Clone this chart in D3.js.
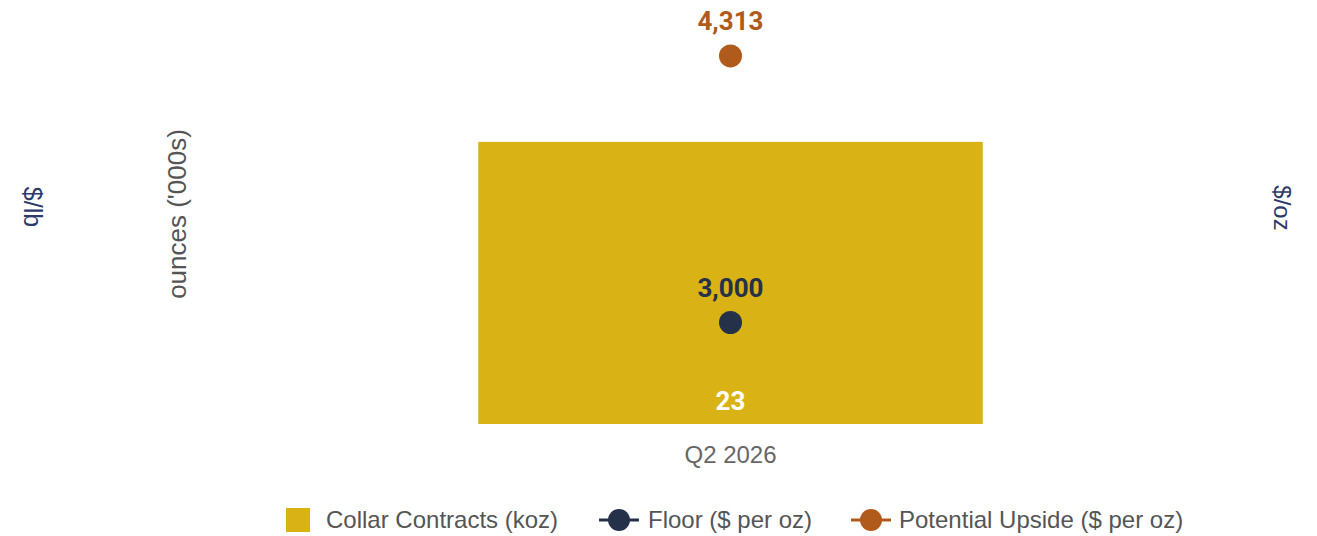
<!DOCTYPE html>
<html><head><meta charset="utf-8">
<script src="https://cdn.jsdelivr.net/npm/d3@7/dist/d3.min.js"></script>
<style>body{margin:0;background:#fff}svg{display:block}</style>
</head><body><svg id="c" width="1317" height="536"></svg>
<script>
const categories = ["Q2 2026"];
const collarKoz = [23];
const floorPrice = [3000];
const upsidePrice = [4313];
const legendLabels = ["Collar Contracts (koz)", "Floor ($ per oz)", "Potential Upside ($ per oz)"];

const colors = {bar:"#D9B216", floor:"#253049", upside:"#B05A1C"};
const svg = d3.select("#c");
const plotTop = 18, plotBottom = 424, plotLeft = 226, plotRight = 1235;
const sans = "'Liberation Sans', Arial, sans-serif";

const x = d3.scaleBand().domain(categories).range([plotLeft, plotRight]).paddingInner(0).paddingOuter(0.5);
const yL = d3.scaleLinear().domain([0, 33.1]).range([plotBottom, plotTop]);
const yR = d3.scaleLinear().domain([2500, 4500]).range([plotBottom, plotTop]);
const fmt = d3.format(",");

// bars
svg.selectAll("rect.bar").data(categories).join("rect")
  .attr("x", d => x(d)).attr("width", x.bandwidth())
  .attr("y", (d,i) => yL(collarKoz[i])).attr("height", (d,i) => plotBottom - yL(collarKoz[i]))
  .attr("fill", colors.bar);
svg.selectAll("text.barlab").data(categories).join("text")
  .attr("x", d => x(d) + x.bandwidth()/2).attr("y", 410)
  .attr("text-anchor","middle").attr("fill","#fff")
  .attr("font-family","Roboto, Arial, sans-serif").attr("font-weight","bold").attr("font-size",26)
  .text((d,i) => collarKoz[i]);

// points
function pts(vals, color) {
  const cx = d => x(d) + x.bandwidth()/2;
  svg.append("g").selectAll("circle").data(categories).join("circle")
    .attr("cx", cx).attr("cy", (d,i) => yR(vals[i])).attr("r", 11.5).attr("fill", color);
  svg.append("g").selectAll("text").data(categories).join("text")
    .attr("x", cx).attr("y", (d,i) => yR(vals[i]) - 26)
    .attr("text-anchor","middle").attr("fill", color)
    .attr("font-family","Roboto, Arial, sans-serif").attr("font-weight","bold").attr("font-size",26)
    .text((d,i) => fmt(vals[i]));
}
pts(floorPrice, colors.floor);
pts(upsidePrice, colors.upside);

// x axis labels
const xAxis = svg.append("g").attr("transform", `translate(0,${plotBottom})`)
  .call(d3.axisBottom(x).tickSize(0).tickPadding(22));
xAxis.select(".domain").remove();
xAxis.selectAll("text").attr("font-family",sans).attr("font-size",24).attr("fill","#666");

// axis titles
svg.append("text").attr("transform","translate(24,207) rotate(90)").attr("text-anchor","middle")
  .attr("font-family",sans).attr("font-size",25).attr("fill","#2E3A6B").text("$/lb");
svg.append("text").attr("transform","translate(186,214) rotate(-90)").attr("text-anchor","middle")
  .attr("font-family",sans).attr("font-size",26).attr("fill","#555").text("ounces ('000s)");
svg.append("text").attr("transform","translate(1274,208) rotate(90)").attr("text-anchor","middle")
  .attr("font-family",sans).attr("font-size",24).attr("fill","#2E3A6B").text("$/oz");

// legend
const lg = svg.append("g").attr("font-family",sans).attr("font-size",24).attr("fill","#555");
const ly = 520;
lg.append("rect").attr("x",286).attr("y",ly-12).attr("width",24).attr("height",24).attr("fill",colors.bar);
lg.append("text").attr("x",326).attr("y",ly+8).text(legendLabels[0]);
[[619, colors.floor, 648, legendLabels[1]], [871, colors.upside, 899, legendLabels[2]]].forEach(([cx,c,tx,t]) => {
  lg.append("line").attr("x1",cx-20).attr("x2",cx+20).attr("y1",ly).attr("y2",ly).attr("stroke",c).attr("stroke-width",3);
  lg.append("circle").attr("cx",cx).attr("cy",ly).attr("r",11).attr("fill",c);
  lg.append("text").attr("x",tx).attr("y",ly+8).text(t);
});
</script></body></html>
